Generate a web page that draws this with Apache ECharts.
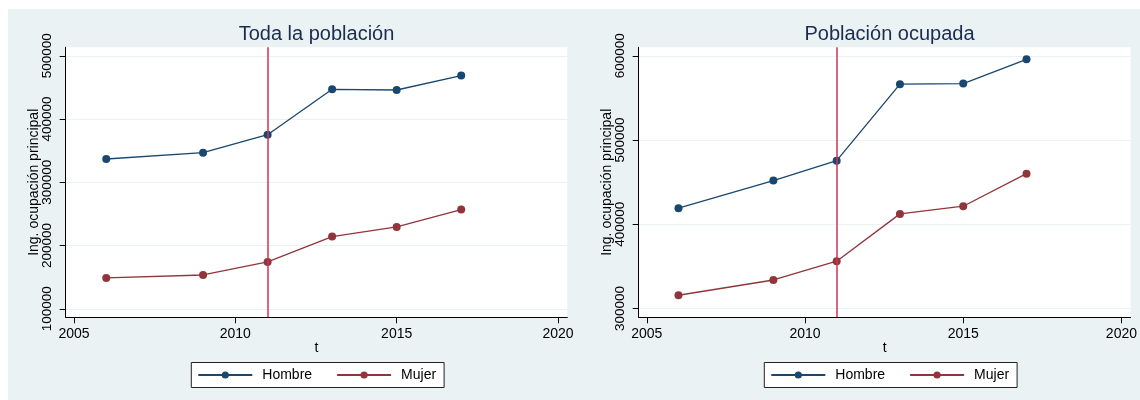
<!DOCTYPE html>
<html>
<head>
<meta charset="utf-8">
<script src="https://cdn.jsdelivr.net/npm/echarts@6.0.0/dist/echarts.min.js"></script>
<style>
  html, body { margin: 0; padding: 0; background: #fff; }
  #chart { width: 1140px; height: 400px; }
</style>
</head>
<body>
<div id="chart"></div>
<script>
// datos
var years = [2006, 2009, 2011, 2013, 2015, 2017];
var hombreTodos = [336800, 346800, 375300, 447000, 445900, 468700];
var mujerTodos = [148800, 153500, 174100, 214200, 229400, 256900];
var hombreOcup = [419000, 451800, 475500, 566300, 567000, 595800];
var mujerOcup = [315700, 333800, 356100, 412300, 421400, 460100];

var xTicks = [2005, 2010, 2015, 2020];
var yTicksTodos = [100000, 200000, 300000, 400000, 500000];
var yTicksOcup = [300000, 400000, 500000, 600000];
var corte = 2011;

var FONT = 'Liberation Sans, Arial, sans-serif';
var NAVY = '#1A476F';
var MAROON = '#90353B';
var VLINE = '#CE3556';
var GRIDC = '#EAF2F3';

function pares(xs, ys) {
    var out = [];
    for (var i = 0; i < xs.length; i++) out.push([xs[i], ys[i]]);
    return out;
}

// sin separador de miles
function sinComa(v) { return String(v); }

function ejeX(idx) {
    return {
        type: 'value', gridIndex: idx,
        min: 2004.743, max: 2020.288,
        name: 't', nameLocation: 'middle', nameGap: 24, nameMoveOverlap: false,
        nameTextStyle: { color: '#000', fontSize: 14, fontFamily: FONT },
        axisLine: { show: true, onZero: false, lineStyle: { color: '#000', width: 1 } },
        axisTick: { show: true, length: 6, customValues: xTicks, lineStyle: { color: '#000' } },
        axisLabel: {
            customValues: xTicks, margin: 10, color: '#000', fontSize: 14, fontFamily: FONT,
            formatter: sinComa, alignMinLabel: 'center', alignMaxLabel: 'center'
        },
        splitLine: { show: false }
    };
}

function ejeY(idx, mn, mx, ticks) {
    return {
        type: 'value', gridIndex: idx,
        min: mn, max: mx,
        name: 'Ing. ocupación principal', nameLocation: 'middle', nameGap: 25, nameRotate: 90,
        nameMoveOverlap: false,
        nameTextStyle: { color: '#000', fontSize: 14, fontFamily: FONT },
        axisLine: { show: true, onZero: false, lineStyle: { color: '#000', width: 1 } },
        axisTick: { show: true, length: 6, customValues: ticks, lineStyle: { color: '#000' } },
        axisLabel: {
            customValues: ticks, rotate: 90, margin: 11,
            color: '#000', fontSize: 13.5, fontFamily: FONT,
            formatter: sinComa
        },
        splitLine: { show: true, lineStyle: { color: GRIDC, width: 1 } }
    };
}

function serie(nombre, idx, color, ys) {
    return {
        name: nombre, type: 'line', xAxisIndex: idx, yAxisIndex: idx,
        data: pares(years, ys),
        symbol: 'circle', symbolSize: 8,
        lineStyle: { color: color, width: 1.3 },
        itemStyle: { color: color },
        z: 3, animation: false
    };
}

function linea(idx) {
    return {
        name: 'corte', type: 'line', xAxisIndex: idx, yAxisIndex: idx,
        data: [], z: 1, animation: false,
        markLine: {
            silent: true, symbol: ['none', 'none'],
            label: { show: false },
            lineStyle: { color: VLINE, width: 1.5, type: 'solid' },
            data: [{ xAxis: corte }]
        }
    };
}

function leyenda(x) {
    return {
        data: ['Hombre', 'Mujer'],
        left: x, top: 362.5,
        orient: 'horizontal',
        itemWidth: 54, itemHeight: 9, itemGap: 24,
        padding: [5, 8, 5, 6],
        backgroundColor: '#fff', borderColor: '#222', borderWidth: 1, borderRadius: 0,
        textStyle: { color: '#000', fontSize: 14, fontFamily: FONT, lineHeight: 15, padding: [0, 0, 0, 5] }
    };
}

var chart = echarts.init(document.getElementById('chart'), null, { renderer: 'canvas' });
chart.setOption({
    animation: false,
    graphic: [
        { type: 'rect', z: -10, shape: { x: 8, y: 9, width: 1132, height: 391 }, style: { fill: GRIDC } },
        { type: 'text', x: 316.5, y: 34, style: { text: 'Toda la población', fill: '#1C2B50', fontSize: 20, fontFamily: FONT, align: 'center', verticalAlign: 'middle' } },
        { type: 'text', x: 889.5, y: 34, style: { text: 'Población ocupada', fill: '#1C2B50', fontSize: 20, fontFamily: FONT, align: 'center', verticalAlign: 'middle' } }
    ],
    grid: [
        { left: 65.7, top: 47.3, width: 501.6, height: 270, show: true, backgroundColor: '#fff', borderWidth: 0 },
        { left: 638.7, top: 47.3, width: 501.6, height: 270, show: true, backgroundColor: '#fff', borderWidth: 0 }
    ],
    xAxis: [ejeX(0), ejeX(1)],
    yAxis: [
        ejeY(0, 86600, 513400, yTicksTodos),
        ejeY(1, 289500, 610100, yTicksOcup)
    ],
    legend: [leyenda(191.3), leyenda(764.3)],
    series: [
        linea(0),
        serie('Hombre', 0, NAVY, hombreTodos),
        serie('Mujer', 0, MAROON, mujerTodos),
        linea(1),
        serie('Hombre', 1, NAVY, hombreOcup),
        serie('Mujer', 1, MAROON, mujerOcup)
    ]
});
</script>
</body>
</html>
